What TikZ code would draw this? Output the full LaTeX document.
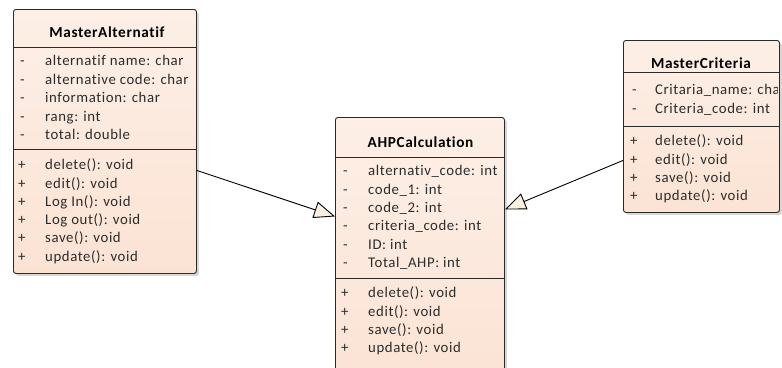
\documentclass[tikz,border=0pt]{standalone}
\usepackage{fontspec}
\setmainfont{Carlito}[LetterSpace=4, Ligatures=NoCommon]
\usetikzlibrary{arrows.meta,shadows}

\definecolor{boxline}{HTML}{2A2A2A}
\definecolor{peachtop}{HTML}{FDEFE6}
\definecolor{peachbot}{HTML}{FBE3D4}
\definecolor{membertext}{HTML}{2C2C2C}
\definecolor{arrowfill}{HTML}{FBF0E2}

\tikzset{
  classbox/.style={draw=boxline, line width=0.9pt, rounded corners=2.5pt,
    top color=peachtop, bottom color=peachbot, inner sep=0pt, anchor=north west,
    drop shadow={shadow xshift=2.5pt, shadow yshift=-2.5pt, fill=black!45, opacity=0.35}},
  classtitle/.style={font=\bfseries\fontsize{15.3}{17}\selectfont, text=black, inner sep=0pt},
  member/.style={font=\fontsize{14.8}{17}\selectfont, text=membertext, anchor=west,
    inner sep=0pt, text height=10.5pt, text depth=3pt},
  sepline/.style={draw=boxline, line width=0.9pt},
  gen/.style={draw=black, line width=0.9pt,
    -{Triangle[open, length=21pt, width=17pt, fill=arrowfill]}},
}

\begin{document}
\begin{tikzpicture}[x=1pt, y=-1pt]
\useasboundingbox (0,0) rectangle (782,367);

% ---------- MasterAlternatif ----------
\node[classbox, minimum width=183pt, minimum height=264pt] (MA) at (13,9) {};
\node[classtitle] (MA-title) at (107,32) {MasterAlternatif};
\draw[sepline] (13,47) -- (196,47);
\draw[sepline] (13,149) -- (196,149);
\foreach \t [count=\i] in {alternatif name: char, alternative code: char,
    information: char, rang: int, total: double} {
  \node[member, name=MA-av\i] at (20,{62+18.5*(\i-1)}) {-};
  \node[member, name=MA-a\i] at (45,{62+18.5*(\i-1)}) {\t};
}
\foreach \t [count=\i] in {delete(): void, edit(): void, Log In(): void,
    Log out(): void, save(): void, update(): void} {
  \node[member, name=MA-mv\i] at (18,{166+18.3*(\i-1)}) {+};
  \node[member, name=MA-m\i] at (45,{166+18.3*(\i-1)}) {\t};
}

% ---------- AHPCalculation ----------
\node[classbox, minimum width=169pt, minimum height=268pt] (AHP) at (335,117) {};
\node[classtitle] (AHP-title) at (420.5,142) {AHPCalculation};
\draw[sepline] (335,157) -- (504,157);
\draw[sepline] (335,278) -- (504,278);
\foreach \t [count=\i] in {alternativ\_code: int, code\_1: int, code\_2: int,
    criteria\_code: int, ID: int, Total\_AHP: int} {
  \node[member, name=AHP-av\i] at (343,{172+18.4*(\i-1)}) {-};
  \node[member, name=AHP-a\i] at (368,{172+18.4*(\i-1)}) {\t};
}
\foreach \t [count=\i] in {delete(): void, edit(): void, save(): void, update(): void} {
  \node[member, name=AHP-mv\i] at (341,{294+18.4*(\i-1)}) {+};
  \node[member, name=AHP-m\i] at (368,{294+18.4*(\i-1)}) {\t};
}

% ---------- MasterCriteria ----------
\node[classbox, minimum width=156pt, minimum height=172pt] (MC) at (623,40) {};
\node[classtitle] (MC-title) at (701,63) {MasterCriteria};
\draw[sepline] (623,72) -- (779,72);
\draw[sepline] (623,126) -- (779,126);
\begin{scope}
  \clip (623,72) rectangle (777.5,212);
  \foreach \t [count=\i] in {Critaria\_name: char, Criteria\_code: int} {
    \node[member, name=MC-av\i] at (632,{91+18.5*(\i-1)}) {-};
    \node[member, name=MC-a\i] at (655,{91+18.5*(\i-1)}) {\t};
  }
  \foreach \t [count=\i] in {delete(): void, edit(): void, save(): void, update(): void} {
    \node[member, name=MC-mv\i] at (630,{142+18.3*(\i-1)}) {+};
    \node[member, name=MC-m\i] at (655,{142+18.3*(\i-1)}) {\t};
  }
\end{scope}

% ---------- generalizations ----------
\draw[gen] ([yshift=-29pt]MA.east) -- ([yshift=35pt]AHP.west);
\draw[gen] ([yshift=-34pt]MC.west) -- ([yshift=42pt]AHP.east);
\end{tikzpicture}
\end{document}
